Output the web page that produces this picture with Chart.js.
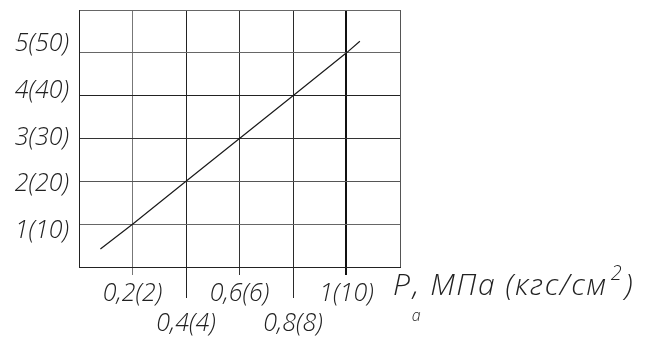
<!DOCTYPE html>
<html>
<head>
<meta charset="utf-8">
<script src="https://cdn.jsdelivr.net/npm/chart.js@4.4.1/dist/chart.umd.min.js"></script>
<style>
  html, body { margin: 0; padding: 0; background: #fff; }
  #c { display: block; }
</style>
</head>
<body>
<canvas id="c" width="648" height="338"></canvas>
<script>
// ---- data ----
const xTickLabels = ['', '0,2(2)', '0,4(4)', '0,6(6)', '0,8(8)', '1(10)', ''];
const yTickValues = [1, 2, 3, 4, 5];
const yTickLabels = ['1(10)', '2(20)', '3(30)', '4(40)', '5(50)'];
const pressureMPa = [0.08, 0.2, 0.4, 0.6, 0.8, 1.0, 1.05];
const responseVal = [0.42, 1, 2, 3, 4, 5, 5.27];
const titleMain = 'P';
const titleSub = 'a';
const titleMid = ', МПа (кгс/см';
const titleSup = '2';
const titleEnd = ')';

const FONT = "'Open Sans', Lato, sans-serif";

const points = pressureMPa.map((x, i) => ({ x: x, y: responseVal[i] }));

const xGridColors = ['#333', '#777', '#222', '#333', '#2a2a2a', '#111', '#555'];
const xGridWidths = [1, 1, 1, 1, 1, 2, 1];
const yGridColors = {0: '#222', 1: '#666', 2: '#555', 3: '#333', 4: '#222', 5: '#666', 6: '#666'};

const extras = {
  id: 'extras',
  afterDraw(chart) {
    const ctx = chart.ctx;
    const xs = chart.scales.x;
    const area = chart.chartArea;
    ctx.save();
    // longer tick marks for the staggered (lower row) labels
    [0.4, 0.8].forEach((v, i) => {
      const px = Math.round(xs.getPixelForValue(v)) + 0.5;
      ctx.beginPath();
      ctx.strokeStyle = i === 0 ? '#222' : '#2a2a2a';
      ctx.lineWidth = 1;
      ctx.moveTo(px, area.bottom);
      ctx.lineTo(px, area.bottom + 31);
      ctx.stroke();
    });
    // axis title to the right of the plot
    ctx.fillStyle = '#222';
    ctx.textBaseline = 'alphabetic';
    ctx.textAlign = 'left';
    let x = area.right - 7;
    const base = area.bottom + 28;
    ctx.font = 'italic 300 30px ' + FONT;
    ctx.fillText(titleMain, x, base);
    x += ctx.measureText(titleMain).width;
    ctx.font = 'italic 300 16px ' + FONT;
    ctx.fillText(titleSub, x + 2, base + 26);
    ctx.font = 'italic 300 30px ' + FONT;
    ctx.letterSpacing = '1.6px';
    x += 3;
    ctx.fillText(titleMid, x, base);
    x += ctx.measureText(titleMid).width;
    ctx.letterSpacing = '0px';
    ctx.font = 'italic 300 20px ' + FONT;
    ctx.fillText(titleSup, x + 3, base - 15);
    x += ctx.measureText(titleSup).width + 6;
    ctx.font = 'italic 300 30px ' + FONT;
    ctx.fillText(titleEnd, x, base);
    ctx.restore();
  }
};

new Chart(document.getElementById('c'), {
  type: 'scatter',
  data: {
    datasets: [{
      data: points,
      showLine: true,
      borderColor: '#1a1a1a',
      borderWidth: 1.2,
      pointRadius: 0,
      pointHoverRadius: 0,
      fill: false,
      tension: 0
    }]
  },
  options: {
    responsive: false,
    animation: false,
    events: [],
    layout: { padding: { top: 10, right: 248, bottom: 0, left: 0 } },
    plugins: { legend: { display: false }, tooltip: { enabled: false } },
    scales: {
      x: {
        type: 'linear',
        min: 0,
        max: 1.2,
        ticks: {
          stepSize: 0.2,
          autoSkip: false,
          maxRotation: 0,
          padding: 4,
          color: '#222',
          font: { family: FONT, size: 25, style: 'italic', weight: 300, lineHeight: 1.2 },
          callback: (v, i) => {
            const t = xTickLabels[i] || '';
            return (i % 2 === 0 && t) ? ['', t] : t;
          }
        },
        grid: {
          color: (c) => xGridColors[c.index] || '#333',
          lineWidth: (c) => xGridWidths[c.index] || 1,
          tickColor: (c) => (c.index === 0 || c.index === 6) ? 'rgba(0,0,0,0)' : (xGridColors[c.index] || '#333'),
          tickWidth: (c) => xGridWidths[c.index] || 1,
          tickLength: 8
        },
        border: { display: true, color: '#222', width: 1 },
        afterFit: (s) => { s.height = 71; }
      },
      y: {
        type: 'linear',
        position: 'left',
        weight: 0,
        min: 0,
        max: 6,
        ticks: { stepSize: 1, display: false },
        grid: {
          color: (c) => yGridColors[Math.round(c.tick.value)] || '#555',
          drawTicks: false
        },
        border: { display: true, color: '#222', width: 1 },
        afterFit: (s) => { s.width = 0; s.paddingTop = 0; s.paddingBottom = 0; }
      },
      y2: {
        type: 'linear',
        position: 'left',
        weight: 1,
        min: 0.23,
        max: 5.727,
        afterBuildTicks: (s) => { s.ticks = yTickValues.map(v => ({ value: v })); },
        ticks: {
          padding: 10,
          color: '#222',
          font: { family: FONT, size: 25, style: 'italic', weight: 300 },
          callback: (v) => {
            const i = yTickValues.indexOf(v);
            return i >= 0 ? yTickLabels[i] : '';
          }
        },
        grid: { display: false, drawTicks: false },
        border: { display: false },
        afterFit: (s) => { s.width = 79; s.paddingTop = 0; s.paddingBottom = 0; }
      }
    }
  },
  plugins: [extras]
});
</script>
</body>
</html>
